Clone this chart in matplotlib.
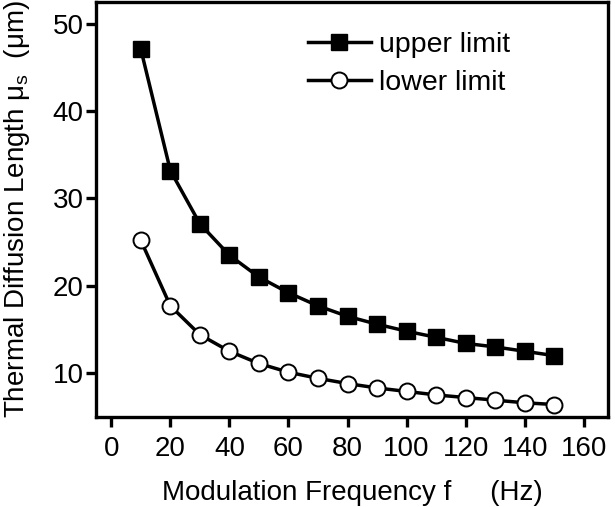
import numpy as np
import matplotlib
matplotlib.use('Agg')
import matplotlib.pyplot as plt

# Values
freq = [10, 20, 30, 40, 50, 60, 70, 80, 90, 100, 110, 120, 130, 140, 150]
upper_limit = [47.1, 33.2, 27.1, 23.5, 21.0, 19.2, 17.7, 16.5, 15.6, 14.8, 14.1, 13.4, 13.0, 12.5, 12.0]
lower_limit = [25.2, 17.7, 14.4, 12.5, 11.1, 10.1, 9.4, 8.8, 8.3, 7.9, 7.5, 7.2, 6.9, 6.6, 6.4]

x_ticks = [0, 20, 40, 60, 80, 100, 120, 140, 160]
y_ticks = [10, 20, 30, 40, 50]

plt.rcParams['font.family'] = ['Liberation Sans', 'DejaVu Sans']
plt.rcParams['mathtext.fontset'] = 'custom'
plt.rcParams['mathtext.rm'] = 'Liberation Sans'
plt.rcParams['mathtext.it'] = 'Liberation Sans:italic'

fig = plt.figure(figsize=(6.15, 5.07), dpi=100)
ax = fig.add_axes([0.156, 0.178, 0.833, 0.818])

ax.plot(freq, upper_limit, color='black', lw=2.5, marker='s', ms=11.5,
        mfc='black', mec='black', label='upper limit')
ax.plot(freq, lower_limit, color='black', lw=2.5, marker='o', ms=11.5,
        mfc='white', mec='black', mew=1.4, label='lower limit')

ax.set_xlim(-5.2, 168.3)
ax.set_ylim(5.0, 52.5)
ax.set_xticks(x_ticks)
ax.set_yticks(y_ticks)

for sp in ax.spines.values():
    sp.set_linewidth(2.4)
ax.tick_params(direction='out', length=7, width=2.4, labelsize=20)
ax.tick_params(axis='x', pad=7)
ax.tick_params(axis='y', pad=2)

ax.set_xlabel('Modulation Frequency f     (Hz)', fontsize=20, labelpad=13)
ax.set_ylabel('Thermal Diffusion Length μ$_{\\mathrm{s}}$  (μm)', fontsize=20, labelpad=15)

ax.legend(loc='upper left', bbox_to_anchor=(0.414, 0.927), frameon=False,
          fontsize=20.5, handlelength=2.2, handletextpad=0.3, labelspacing=0.42,
          borderpad=0, borderaxespad=0)

fig.savefig('out.png', dpi=100)
